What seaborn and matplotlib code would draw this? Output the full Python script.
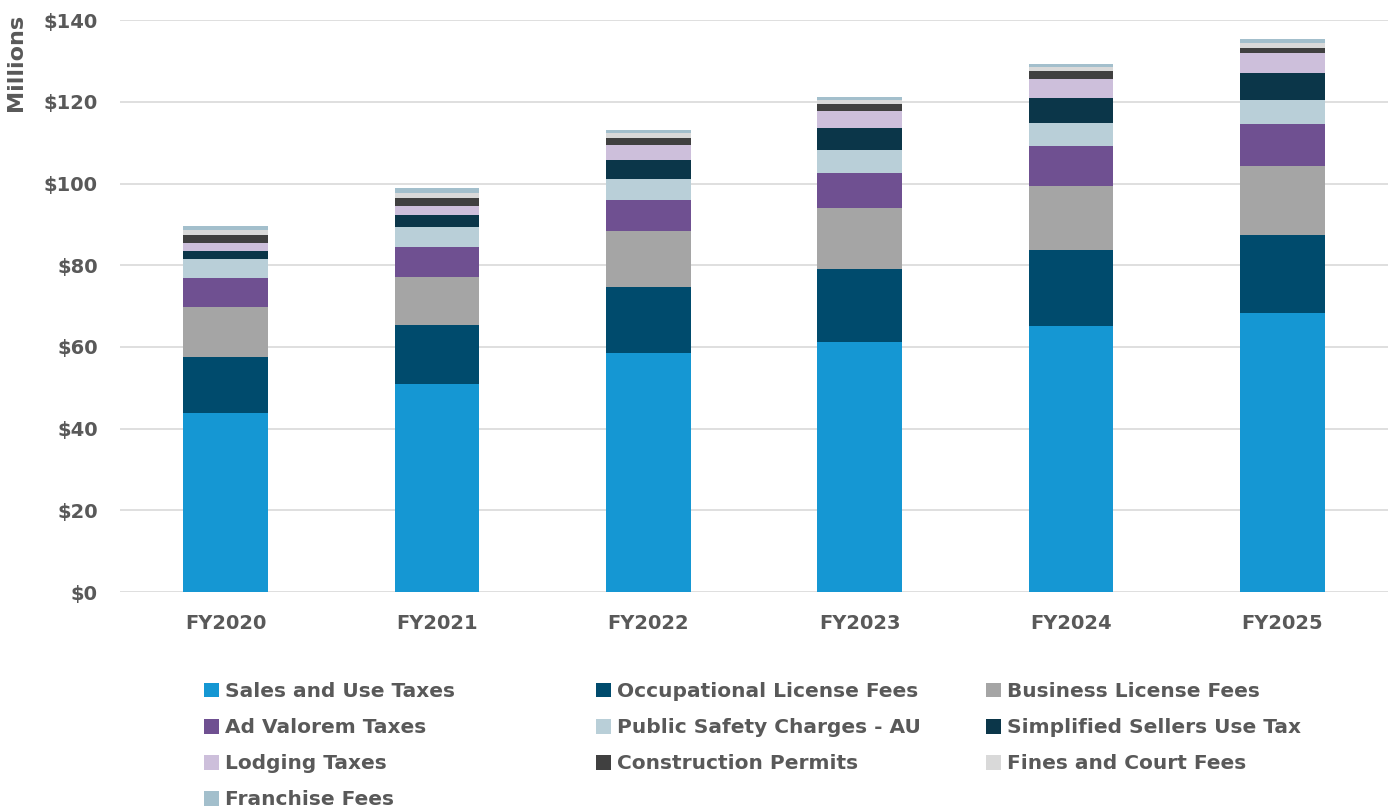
import pandas as pd
import seaborn as sns
import matplotlib.pyplot as plt
from matplotlib.patches import Patch
from matplotlib.ticker import FuncFormatter

years = ["FY2020", "FY2021", "FY2022", "FY2023", "FY2024", "FY2025"]

# revenue by source, $ millions (bottom to top of each stack)
sales_use = [43.8, 50.9, 58.5, 61.2, 65.1, 68.3]
occupational = [13.7, 14.4, 16.2, 17.9, 18.6, 19.1]
business_lic = [12.3, 11.8, 13.7, 14.9, 15.7, 16.9]
ad_valorem = [7.1, 7.3, 7.5, 8.6, 9.8, 10.2]
public_safety = [4.7, 5.0, 5.2, 5.6, 5.7, 5.9]
simplified = [1.9, 2.9, 4.6, 5.4, 6.1, 6.6]
lodging = [2.0, 2.2, 3.7, 4.2, 4.7, 4.9]
construction = [1.9, 1.9, 1.7, 1.7, 1.8, 1.3]
fines = [1.2, 1.4, 1.2, 1.0, 1.1, 1.3]
franchise = [1.0, 1.1, 0.8, 0.8, 0.8, 0.8]

names = ["Sales and Use Taxes", "Occupational License Fees", "Business License Fees",
         "Ad Valorem Taxes", "Public Safety Charges - AU", "Simplified Sellers Use Tax",
         "Lodging Taxes", "Construction Permits", "Fines and Court Fees", "Franchise Fees"]
colors = ["#1597D3", "#004B6D", "#A5A5A5", "#6F5091", "#B9CFD8",
          "#0B3649", "#CDBFDB", "#404040", "#D9D9D9", "#A3BFCC"]

df = pd.DataFrame(
    [sales_use, occupational, business_lic, ad_valorem, public_safety,
     simplified, lodging, construction, fines, franchise],
    index=names, columns=years,
)
cum = df.cumsum()

sns.set_style("white")
plt.rcParams["font.family"] = ["DejaVu Sans"]
text_col = "#595959"

fig = plt.figure(figsize=(13.95, 8.11), dpi=100)
ax = fig.add_axes([0.086, 0.270, 0.909, 0.705])

# draw cumulative totals from the top layer down so each layer overlays the next
for name, col in reversed(list(zip(names, colors))):
    sns.barplot(x=years, y=cum.loc[name].values, color=col, width=0.4,
                saturation=1, linewidth=0, ax=ax, zorder=3)

ax.set_ylim(0, 140)
ax.set_yticks(range(0, 141, 20))
ax.yaxis.set_major_formatter(FuncFormatter(lambda v, p: f"${v:.0f}"))
ax.grid(axis="y", color="#D9D9D9", linewidth=1.2, zorder=0)
ax.set_axisbelow(True)
for s in ax.spines.values():
    s.set_visible(False)
ax.tick_params(axis="y", length=0, labelsize=14, labelcolor=text_col, pad=16)
ax.tick_params(axis="x", length=0, labelsize=14, labelcolor=text_col, pad=16)
for lab in ax.get_xticklabels() + ax.get_yticklabels():
    lab.set_fontweight("bold")
ax.set_ylabel("Millions", fontsize=16, fontweight="bold", color=text_col)
ax.yaxis.set_label_coords(-0.074, 0.927)
ax.set_xlabel("")

# legend: three fixed-width columns, filled row by row
handles = [Patch(facecolor=c, edgecolor="none", label=n) for n, c in zip(names, colors)]
col_x = [0.146, 0.427, 0.707]
for j, x0 in enumerate(col_x):
    idx = list(range(j, len(names), 3))
    leg = fig.legend([handles[i] for i in idx], [names[i] for i in idx],
                     loc="upper left", bbox_to_anchor=(x0, 0.159), ncol=1,
                     frameon=False, prop={"weight": "bold", "size": 14.5},
                     labelcolor=text_col, handlelength=0.75, handleheight=0.75,
                     handletextpad=0.3, labelspacing=0.85,
                     borderaxespad=0, borderpad=0)

fig.savefig("out.png", dpi=100)
